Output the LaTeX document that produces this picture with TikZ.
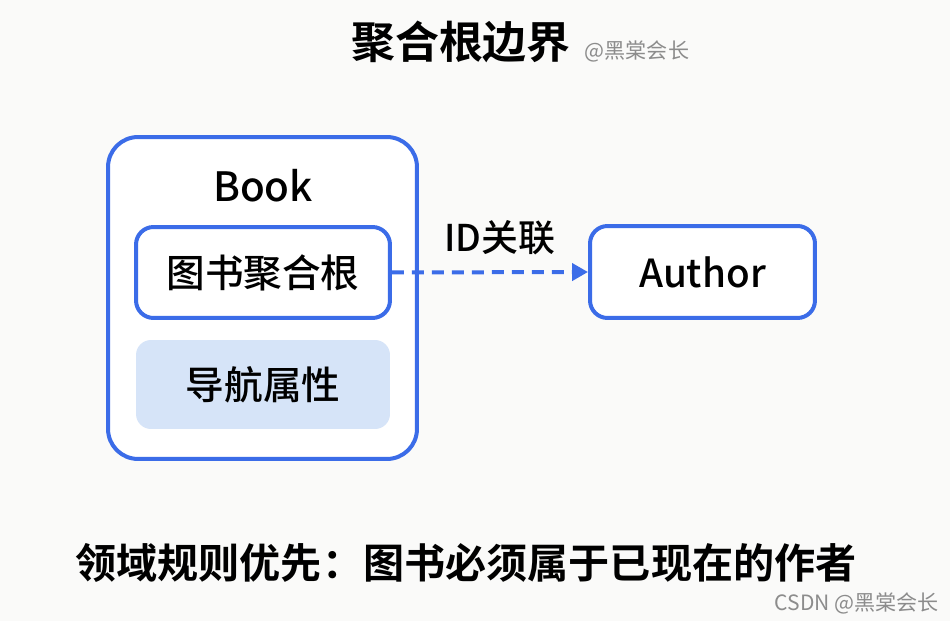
\documentclass[tikz,border=0pt]{standalone}
\usepackage{fontspec}
\setmainfont{Noto Sans CJK SC}[BoldFont={Noto Sans CJK SC Bold}]
\newfontfamily\cjkmed{Noto Sans CJK SC Medium}
\usepackage{tikz}
\usetikzlibrary{positioning,arrows.meta}
\definecolor{aggblue}{RGB}{59,108,232}
\definecolor{navfill}{RGB}{214,228,248}
\definecolor{paper}{RGB}{250,250,249}
\tikzset{
  outer/.style  = {draw=aggblue, line width=0.8mm, rounded corners=6mm,
                   fill=white},
  ent/.style    = {draw=aggblue, line width=0.8mm, rounded corners=3.5mm,
                   fill=white, font=\cjkmed\fontsize{22}{26}\selectfont},
  navbox/.style = {fill=navfill, rounded corners=3mm,
                   font=\cjkmed\fontsize{22}{26}\selectfont},
  link/.style   = {-{Triangle[length=3.2mm, width=3.4mm]}, draw=aggblue,
                   line width=0.8mm, dash pattern=on 2.4mm off 1.6mm},
  lbl/.style    = {font=\cjkmed\fontsize{21}{25}\selectfont},
  wm/.style     = {text=black!45, font=\fontsize{12}{14}\selectfont},
}

\begin{document}
\begin{tikzpicture}[x=0.02cm, y=-0.02cm]

% ===== canvas =====
\fill[paper] (0,0) rectangle (950,621);
\useasboundingbox (0,0) rectangle (950,621);

% ===== title =====
\node[font=\bfseries\fontsize{25}{30}\selectfont] (title) at (461,42) {聚合根边界};
\node[wm, anchor=base west, inner sep=0pt, xshift=1.5mm] (titlewm) at (title.base east) {@黑棠会长};

% ===== Book aggregate =====
\node[outer, minimum width=6.18cm, minimum height=6.44cm] (book) at (262.5,298) {};
\node[font=\cjkmed\fontsize{23}{27}\selectfont] (booklbl) at (263,186) {Book};
\node[ent, minimum width=5.08cm, minimum height=1.82cm] (root) at (263,272.5) {图书聚合根};
\node[navbox, minimum width=5.08cm, minimum height=1.78cm] (nav) at (263,384.5) {导航属性};

% ===== Author =====
\node[ent, minimum width=4.5cm, minimum height=1.84cm] (author) at (702.5,272) {Author};

% ===== connections =====
\draw[link] (root.east) -- (author.west)
      node[midway, lbl, yshift=7mm, xshift=2mm] (idlbl) {ID关联};

% ===== rule =====
\node[font=\bfseries\fontsize{23.4}{28}\selectfont] (rule) at (466,563)
     {领域规则优先：图书必须属于已现在的作者};
\node[wm, anchor=east] (csdn) at (945,603) {CSDN @黑棠会长};
\end{tikzpicture}
\end{document}
